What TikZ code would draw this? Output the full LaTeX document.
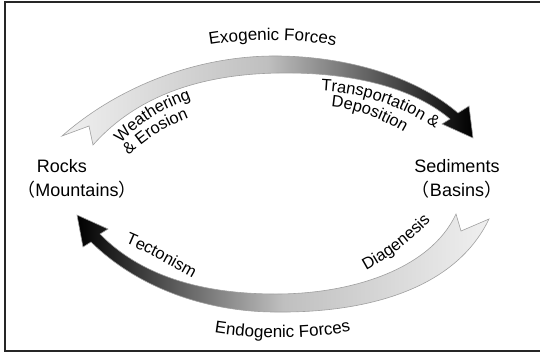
\documentclass[tikz,border=0pt]{standalone}
\usepackage{fontspec}
\setmainfont{Liberation Sans}
\newfontfamily\cjkfont{Noto Sans CJK SC}
\usetikzlibrary{decorations.text}
\tikzset{
  band/.style={draw=gray!75, line width=0.6pt},
  mainlbl/.style={font=\fontsize{18}{21}\selectfont, anchor=base, inner sep=0pt},
  curvedlbl/.style={decorate, decoration={text along path, text align=#1}},
}
\begin{document}
\begin{tikzpicture}[x=1pt,y=-1pt]
\useasboundingbox (0,0) rectangle (540,354);
% frame
\draw[line width=1.6pt, black!85] (545,2) -- (5,2) -- (5,351) -- (545,351);

% upper arrow (exogenic)
\draw[band, left color=gray!12, right color=black, middle color=gray!50]
  (62,136) .. controls (120,85) and (200,55) .. (279,56)
  .. controls (355,57) and (420,80) .. (458,113)
  -- (469,106) -- (473,138) -- (442,124) -- (450,119)
  .. controls (410,85) and (345,72) .. (279,73)
  .. controls (208,74) and (140,92) .. (93,145)
  -- (89,126) -- cycle;

% lower arrow (endogenic)
\draw[band, left color=black, right color=gray!12, middle color=gray!50]
  (77,215) -- (108,229) -- (100,234)
  .. controls (140,275) and (200,294) .. (276,294)
  .. controls (350,294) and (430,270) .. (456,214)
  -- (461,231) -- (489,219)
  .. controls (455,290) and (365,313) .. (276,312)
  .. controls (210,312) and (140,290) .. (91,242)
  -- (83,247) -- cycle;

% main labels
\node[mainlbl] (rocks) at (62,172) {Rocks};
\node[mainlbl] (mount) at (77,196) {{\cjkfont （}Mountains{\cjkfont ）}};
\node[mainlbl] (sed) at (457,172) {Sediments};
\node[mainlbl] (bas) at (457,196) {{\cjkfont （}Basins{\cjkfont ）}};

% curved labels
\path[curvedlbl=center, decoration={text={|\fontsize{17}{20}\selectfont|Exogenic Forces}}]
  (190,49) .. controls (240,37) and (305,37) .. (355,50);
\path[curvedlbl=center, decoration={text={|\fontsize{17}{20}\selectfont|Endogenic Forces}}]
  (195,329) .. controls (245,341) and (320,341) .. (370,327);
\path[curvedlbl=left, decoration={text={|\fontsize{16.5}{19}\selectfont|Weathering}}]
  (121,144) .. controls (141,121) and (166,106) .. (211,92);
\path[curvedlbl=left, decoration={text={|\fontsize{16.5}{19}\selectfont|{\&} Erosion}}]
  (129,156) .. controls (146,138) and (171,122) .. (216,108);
\path[curvedlbl=left, decoration={text={|\fontsize{16.5}{19}\selectfont|Transportation {\&}}}]
  (321,91) .. controls (365,93) and (410,107) .. (455,143);
\path[curvedlbl=left, decoration={text={|\fontsize{16.5}{19}\selectfont|Deposition}}]
  (331,107) .. controls (355,109) and (380,117) .. (415,139);
\path[curvedlbl=left, decoration={text={|\fontsize{16.5}{19}\selectfont|Tectonism}}]
  (125,243) .. controls (149,253) and (171,266) .. (204,284);
\path[curvedlbl=left, decoration={text={|\fontsize{16.5}{19}\selectfont|Diagenesis}}]
  (366,270) .. controls (395,254) and (420,236) .. (455,194);
\end{tikzpicture}
\end{document}
